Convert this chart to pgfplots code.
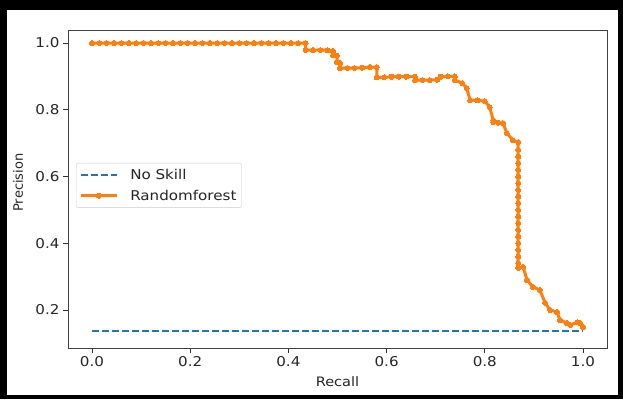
\documentclass[border=0pt]{standalone}
\usepackage{fontspec}
\setmainfont{DejaVu Sans}[FakeStretch=1.12]
\newfontfamily\plainfont{DejaVu Sans}
\usepackage{pgfplots}
\pgfplotsset{compat=1.18}
\definecolor{c0}{HTML}{1F77B4}
\definecolor{c1}{HTML}{FF7F0E}
\definecolor{txt}{HTML}{262626}
\begin{document}
\begin{tikzpicture}[x=1pt,y=1pt]
\fill[black] (0,0) rectangle (623,399);
\fill[white] (7,4) rectangle (618,389);
\useasboundingbox (0,0) rectangle (623,399);
\begin{axis}[
  at={(68pt,51pt)}, anchor=south west, scale only axis,
  width=539pt, height=318pt,
  xmin=-0.0489, xmax=1.0489, ymin=0.086, ymax=1.039,
  xtick={0,0.2,0.4,0.6,0.8,1.0},
  ytick={0.2,0.4,0.6,0.8,1.0},
  xticklabels={0.0,0.2,0.4,0.6,0.8,1.0},
  yticklabels={0.2,0.4,0.6,0.8,1.0},
  xtick pos=lower, ytick pos=left,
  tick align=outside, major tick length=5pt,
  every tick/.style={black!80, line width=0.9pt},
  axis line style={black!75, line width=1pt},
  tick label style={font=\fontsize{13.5}{15}\selectfont, text=txt},
  xlabel={Recall}, ylabel={\plainfont Precision},
  label style={font=\fontsize{13}{15}\selectfont, text=txt},
  xlabel style={at={(axis description cs:0.5,0)}, anchor=center, yshift=-34pt},
  ylabel style={at={(axis description cs:-0.0928,0.52)}, anchor=center},
  legend style={at={(rel axis cs:0.015,0.582)}, anchor=north west,
    draw=black!20, rounded corners=2pt, font=\fontsize{13.5}{15}\selectfont,
    text=txt, inner xsep=3pt, inner ysep=4pt, row sep=5pt,
    /tikz/every odd column/.append style={column sep=10pt}},
  legend cell align=left,
  legend image code/.code={\draw[mark repeat=2,mark phase=2,#1] plot coordinates {(0pt,0pt) (18pt,0pt) (36pt,0pt)};},
]
\addplot[c0, line width=2.2pt, dash pattern=on 7pt off 3pt] coordinates {(0,0.138) (1,0.138)};
\addlegendentry{No Skill}
\addplot[c1, line width=3pt, mark=*, mark size=2.5pt, mark options={solid, draw=c1, fill=c1, line width=0pt}] coordinates {
(0.000,1.0) (0.015,1.0) (0.030,1.0) (0.045,1.0) (0.060,1.0) (0.075,1.0)
(0.090,1.0) (0.105,1.0) (0.120,1.0) (0.135,1.0) (0.150,1.0) (0.165,1.0)
(0.180,1.0) (0.195,1.0) (0.210,1.0) (0.225,1.0) (0.240,1.0) (0.255,1.0)
(0.270,1.0) (0.285,1.0) (0.300,1.0) (0.315,1.0) (0.330,1.0) (0.345,1.0)
(0.360,1.0) (0.375,1.0) (0.390,1.0) (0.405,1.0) (0.420,1.0) (0.435,1.0)
(0.435,0.979) (0.450,0.979) (0.465,0.979) (0.480,0.978) (0.491,0.976)
(0.491,0.964) (0.499,0.962) (0.499,0.943) (0.505,0.940) (0.505,0.925)
(0.520,0.925) (0.535,0.925) (0.550,0.926) (0.566,0.928) (0.580,0.928)
(0.580,0.897) (0.595,0.897) (0.610,0.899) (0.625,0.899) (0.640,0.899)
(0.658,0.899) (0.658,0.889) (0.673,0.889) (0.688,0.889) (0.703,0.890)
(0.710,0.899) (0.725,0.900) (0.739,0.900) (0.739,0.889) (0.754,0.880)
(0.763,0.865) (0.770,0.829) (0.785,0.828) (0.800,0.826) (0.810,0.808)
(0.817,0.769) (0.817,0.763) (0.827,0.761) (0.837,0.760) (0.845,0.730)
(0.857,0.709) (0.868,0.703) (0.868,0.680) (0.868,0.660) (0.868,0.640)
(0.868,0.620) (0.868,0.600) (0.868,0.580) (0.868,0.560) (0.868,0.540)
(0.868,0.520) (0.868,0.500) (0.868,0.480) (0.868,0.460) (0.868,0.440)
(0.868,0.420) (0.868,0.400) (0.868,0.380) (0.868,0.360) (0.868,0.340)
(0.868,0.326) (0.878,0.329) (0.886,0.290) (0.898,0.269) (0.912,0.260)
(0.923,0.221) (0.933,0.200) (0.947,0.194) (0.953,0.170) (0.967,0.161)
(0.974,0.155) (0.988,0.163) (0.994,0.161) (1.000,0.149)
};
\addlegendentry{Randomforest}
\end{axis}
\end{tikzpicture}
\end{document}
